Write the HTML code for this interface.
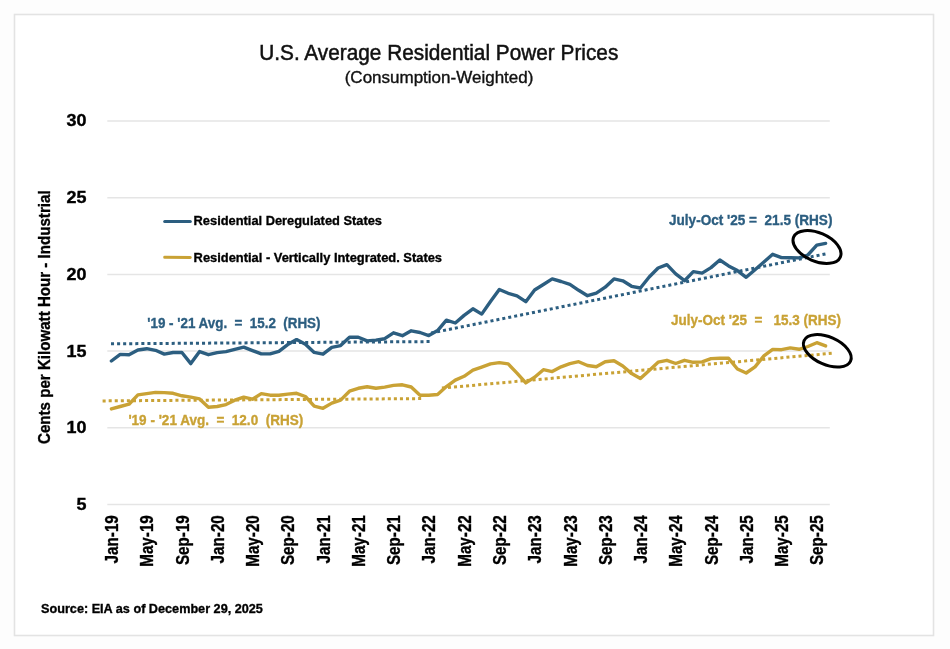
<!DOCTYPE html>
<html><head><meta charset="utf-8"><title>U.S. Average Residential Power Prices</title>
<style>html,body{margin:0;padding:0;background:#fdfdfd;}body{width:950px;height:649px;overflow:hidden;}svg{display:block;will-change:transform;}</style>
</head><body>
<svg width="950" height="649" viewBox="0 0 950 649" font-family="'Liberation Sans', Arial, sans-serif">
<rect x="0" y="0" width="950" height="649" fill="#fdfdfd"/>
<rect x="14.5" y="14.5" width="919" height="621" fill="#ffffff" stroke="#e3e3e3" stroke-width="1.6"/>
<text x="259.3" y="60.1" font-size="21.5" fill="#111" stroke="#111" stroke-width="0.5" textLength="359"  lengthAdjust="spacingAndGlyphs">U.S. Average Residential Power Prices</text>
<text x="344.7" y="82.6" font-size="15.8" fill="#111" stroke="#111" stroke-width="0.35" textLength="188.7" lengthAdjust="spacingAndGlyphs">(Consumption-Weighted)</text>
<line x1="107.3" y1="121.0" x2="829.8" y2="121.0" stroke="#E5E5E5" stroke-width="1.5"/>
<text transform="translate(86.4,126.4) scale(1.15,1)" x="0" y="0" font-size="15.6" font-weight="bold" fill="#000" stroke="#000" stroke-width="0.35" text-anchor="end">30</text>
<line x1="107.3" y1="197.7" x2="829.8" y2="197.7" stroke="#E5E5E5" stroke-width="1.5"/>
<text transform="translate(86.4,203.1) scale(1.15,1)" x="0" y="0" font-size="15.6" font-weight="bold" fill="#000" stroke="#000" stroke-width="0.35" text-anchor="end">25</text>
<line x1="107.3" y1="274.4" x2="829.8" y2="274.4" stroke="#E5E5E5" stroke-width="1.5"/>
<text transform="translate(86.4,279.8) scale(1.15,1)" x="0" y="0" font-size="15.6" font-weight="bold" fill="#000" stroke="#000" stroke-width="0.35" text-anchor="end">20</text>
<line x1="107.3" y1="351.1" x2="829.8" y2="351.1" stroke="#E5E5E5" stroke-width="1.5"/>
<text transform="translate(86.4,356.5) scale(1.15,1)" x="0" y="0" font-size="15.6" font-weight="bold" fill="#000" stroke="#000" stroke-width="0.35" text-anchor="end">15</text>
<line x1="107.3" y1="427.8" x2="829.8" y2="427.8" stroke="#E5E5E5" stroke-width="1.5"/>
<text transform="translate(86.4,433.2) scale(1.15,1)" x="0" y="0" font-size="15.6" font-weight="bold" fill="#000" stroke="#000" stroke-width="0.35" text-anchor="end">10</text>
<line x1="107.3" y1="504.5" x2="829.8" y2="504.5" stroke="#E5E5E5" stroke-width="1.5"/>
<text transform="translate(86.4,509.9) scale(1.15,1)" x="0" y="0" font-size="15.6" font-weight="bold" fill="#000" stroke="#000" stroke-width="0.35" text-anchor="end">5</text>
<text transform="translate(50,444) rotate(-90)" x="0" y="0" font-size="17.3" font-weight="bold" fill="#000" stroke="#000" stroke-width="0.35" textLength="253.6" lengthAdjust="spacingAndGlyphs">Cents per Kilowatt Hour - Industrial</text>
<text transform="translate(118.0,515.2) rotate(-90) scale(0.845,1)" x="0" y="0" font-size="18" font-weight="bold" fill="#000" stroke="#000" stroke-width="0.35" text-anchor="end">Jan-19</text>
<text transform="translate(153.3,515.2) rotate(-90) scale(0.845,1)" x="0" y="0" font-size="18" font-weight="bold" fill="#000" stroke="#000" stroke-width="0.35" text-anchor="end">May-19</text>
<text transform="translate(188.5,515.2) rotate(-90) scale(0.845,1)" x="0" y="0" font-size="18" font-weight="bold" fill="#000" stroke="#000" stroke-width="0.35" text-anchor="end">Sep-19</text>
<text transform="translate(223.8,515.2) rotate(-90) scale(0.845,1)" x="0" y="0" font-size="18" font-weight="bold" fill="#000" stroke="#000" stroke-width="0.35" text-anchor="end">Jan-20</text>
<text transform="translate(259.1,515.2) rotate(-90) scale(0.845,1)" x="0" y="0" font-size="18" font-weight="bold" fill="#000" stroke="#000" stroke-width="0.35" text-anchor="end">May-20</text>
<text transform="translate(294.3,515.2) rotate(-90) scale(0.845,1)" x="0" y="0" font-size="18" font-weight="bold" fill="#000" stroke="#000" stroke-width="0.35" text-anchor="end">Sep-20</text>
<text transform="translate(329.6,515.2) rotate(-90) scale(0.845,1)" x="0" y="0" font-size="18" font-weight="bold" fill="#000" stroke="#000" stroke-width="0.35" text-anchor="end">Jan-21</text>
<text transform="translate(364.9,515.2) rotate(-90) scale(0.845,1)" x="0" y="0" font-size="18" font-weight="bold" fill="#000" stroke="#000" stroke-width="0.35" text-anchor="end">May-21</text>
<text transform="translate(400.1,515.2) rotate(-90) scale(0.845,1)" x="0" y="0" font-size="18" font-weight="bold" fill="#000" stroke="#000" stroke-width="0.35" text-anchor="end">Sep-21</text>
<text transform="translate(435.4,515.2) rotate(-90) scale(0.845,1)" x="0" y="0" font-size="18" font-weight="bold" fill="#000" stroke="#000" stroke-width="0.35" text-anchor="end">Jan-22</text>
<text transform="translate(470.7,515.2) rotate(-90) scale(0.845,1)" x="0" y="0" font-size="18" font-weight="bold" fill="#000" stroke="#000" stroke-width="0.35" text-anchor="end">May-22</text>
<text transform="translate(505.9,515.2) rotate(-90) scale(0.845,1)" x="0" y="0" font-size="18" font-weight="bold" fill="#000" stroke="#000" stroke-width="0.35" text-anchor="end">Sep-22</text>
<text transform="translate(541.2,515.2) rotate(-90) scale(0.845,1)" x="0" y="0" font-size="18" font-weight="bold" fill="#000" stroke="#000" stroke-width="0.35" text-anchor="end">Jan-23</text>
<text transform="translate(576.5,515.2) rotate(-90) scale(0.845,1)" x="0" y="0" font-size="18" font-weight="bold" fill="#000" stroke="#000" stroke-width="0.35" text-anchor="end">May-23</text>
<text transform="translate(611.8,515.2) rotate(-90) scale(0.845,1)" x="0" y="0" font-size="18" font-weight="bold" fill="#000" stroke="#000" stroke-width="0.35" text-anchor="end">Sep-23</text>
<text transform="translate(647.0,515.2) rotate(-90) scale(0.845,1)" x="0" y="0" font-size="18" font-weight="bold" fill="#000" stroke="#000" stroke-width="0.35" text-anchor="end">Jan-24</text>
<text transform="translate(682.3,515.2) rotate(-90) scale(0.845,1)" x="0" y="0" font-size="18" font-weight="bold" fill="#000" stroke="#000" stroke-width="0.35" text-anchor="end">May-24</text>
<text transform="translate(717.6,515.2) rotate(-90) scale(0.845,1)" x="0" y="0" font-size="18" font-weight="bold" fill="#000" stroke="#000" stroke-width="0.35" text-anchor="end">Sep-24</text>
<text transform="translate(752.8,515.2) rotate(-90) scale(0.845,1)" x="0" y="0" font-size="18" font-weight="bold" fill="#000" stroke="#000" stroke-width="0.35" text-anchor="end">Jan-25</text>
<text transform="translate(788.1,515.2) rotate(-90) scale(0.845,1)" x="0" y="0" font-size="18" font-weight="bold" fill="#000" stroke="#000" stroke-width="0.35" text-anchor="end">May-25</text>
<text transform="translate(823.4,515.2) rotate(-90) scale(0.845,1)" x="0" y="0" font-size="18" font-weight="bold" fill="#000" stroke="#000" stroke-width="0.35" text-anchor="end">Sep-25</text>
<line x1="164.7" y1="221.6" x2="190.3" y2="221.6" stroke="#2C5E80" stroke-width="3" stroke-linecap="round"/>
<text x="193.6" y="225.0" font-size="13.5" font-weight="bold" fill="#000" stroke="#000" stroke-width="0.35" textLength="188.4" lengthAdjust="spacingAndGlyphs">Residential Deregulated States</text>
<line x1="164.7" y1="257.3" x2="190.3" y2="257.5" stroke="#C9A235" stroke-width="3" stroke-linecap="round"/>
<text x="193.6" y="262.0" font-size="13.5" font-weight="bold" fill="#000" stroke="#000" stroke-width="0.35" textLength="248.4" lengthAdjust="spacingAndGlyphs">Residential - Vertically Integrated. States</text>
<line x1="111.0" y1="343.8" x2="429.6" y2="341.6" stroke="#2C5E80" stroke-width="3" stroke-dasharray="3.05 3.018"/>
<line x1="102.6" y1="400.9" x2="421.4" y2="398.6" stroke="#C9A235" stroke-width="3" stroke-dasharray="3.05 3.018"/>
<line x1="431.17" y1="333.0" x2="825.5" y2="253.9" stroke="#2C5E80" stroke-width="3" stroke-dasharray="3.03 3.017"/>
<line x1="441.9" y1="388.1" x2="831.7" y2="353.3" stroke="#C9A235" stroke-width="3" stroke-dasharray="3.04 3.028"/>
<polyline points="111.4,361.0 120.2,354.4 129.0,354.7 137.9,350.0 146.7,348.7 155.5,350.3 164.3,354.1 173.1,352.5 181.9,352.5 190.8,363.6 199.6,351.6 208.4,354.7 217.2,352.6 226.0,351.6 234.8,349.3 243.7,347.2 252.5,350.6 261.3,353.9 270.1,353.9 278.9,351.3 287.7,344.6 296.6,339.6 305.4,344.3 314.2,352.4 323.0,354.2 331.8,347.3 340.6,345.6 349.5,337.2 358.3,337.2 367.1,340.9 375.9,340.1 384.7,338.7 393.5,332.8 402.4,335.7 411.2,330.8 420.0,332.5 428.8,335.6 437.6,330.6 446.4,320.1 455.3,323.0 464.1,315.4 472.9,308.8 481.7,314.1 490.5,301.5 499.3,289.5 508.2,293.3 517.0,295.8 525.8,301.7 534.6,290.0 543.4,284.5 552.2,278.9 561.1,281.5 569.9,284.3 578.7,290.3 587.5,295.7 596.3,293.1 605.2,287.2 614.0,278.9 622.8,280.8 631.6,286.3 640.4,288.0 649.2,277.0 658.1,268.0 666.9,264.6 675.7,273.9 684.5,280.7 693.3,271.6 702.1,273.1 711.0,267.6 719.8,260.0 728.6,265.9 737.4,270.6 746.2,277.3 755.0,269.7 763.9,262.0 772.7,254.3 781.5,257.6 790.3,257.8 799.1,257.9 807.9,255.0 816.8,245.1 825.6,243.4" fill="none" stroke="#2C5E80" stroke-width="3.4" stroke-linejoin="round" stroke-linecap="round"/>
<polyline points="111.4,408.9 120.2,406.5 129.0,404.2 137.9,394.9 146.7,393.6 155.5,392.4 164.3,392.6 173.1,393.3 181.9,395.8 190.8,397.1 199.6,398.9 208.4,407.2 217.2,406.5 226.0,404.6 234.8,400.2 243.7,397.1 252.5,399.2 261.3,393.6 270.1,395.2 278.9,395.2 287.7,394.1 296.6,393.3 305.4,396.5 314.2,406.2 323.0,408.3 331.8,403.1 340.6,400.1 349.5,391.2 358.3,388.3 367.1,386.8 375.9,388.3 384.7,387.1 393.5,385.4 402.4,384.8 411.2,387.0 420.0,395.3 428.8,395.2 437.6,394.5 446.4,386.6 455.3,380.1 464.1,376.3 472.9,370.2 481.7,367.1 490.5,363.9 499.3,362.6 508.2,363.9 517.0,373.1 525.8,382.9 534.6,377.3 543.4,369.7 552.2,371.6 561.1,366.8 569.9,363.7 578.7,361.7 587.5,365.5 596.3,366.8 605.2,361.7 614.0,360.8 622.8,366.0 631.6,373.6 640.4,378.6 649.2,370.4 658.1,362.2 666.9,360.3 675.7,363.5 684.5,360.3 693.3,362.3 702.1,361.9 711.0,358.6 719.8,358.3 728.6,358.3 737.4,369.0 746.2,373.0 755.0,366.8 763.9,355.9 772.7,349.4 781.5,349.7 790.3,347.9 799.1,349.3 807.9,346.5 816.8,342.7 825.6,345.9" fill="none" stroke="#C9A235" stroke-width="3.4" stroke-linejoin="round" stroke-linecap="round"/>
<text x="147.3" y="327.9" font-size="14.5" font-weight="bold" fill="#2C5E80" stroke="#2C5E80" stroke-width="0.35" textLength="173.2" lengthAdjust="spacingAndGlyphs" xml:space="preserve" style="white-space:pre">'19 - '21 Avg.  =  15.2  (RHS)</text>
<text x="128.4" y="424.8" font-size="14.5" font-weight="bold" fill="#C9A235" stroke="#C9A235" stroke-width="0.35" textLength="174.8" lengthAdjust="spacingAndGlyphs" xml:space="preserve" style="white-space:pre">'19 - '21 Avg.  =  12.0  (RHS)</text>
<text x="669" y="225" font-size="14.5" font-weight="bold" fill="#2C5E80" stroke="#2C5E80" stroke-width="0.35" textLength="163.4" lengthAdjust="spacingAndGlyphs" xml:space="preserve" style="white-space:pre">July-Oct '25 =  21.5 (RHS)</text>
<text x="671" y="325" font-size="14.5" font-weight="bold" fill="#C9A235" stroke="#C9A235" stroke-width="0.35" textLength="170" lengthAdjust="spacingAndGlyphs" xml:space="preserve" style="white-space:pre">July-Oct '25  =   15.3 (RHS)</text>
<ellipse cx="817" cy="247" rx="25.4" ry="14.2" transform="rotate(23.4 817 247)" fill="none" stroke="#000" stroke-width="3"/>
<ellipse cx="827.3" cy="350.85" rx="25.4" ry="13.8" transform="rotate(23.8 827.3 350.85)" fill="none" stroke="#000" stroke-width="3"/>
<text x="41" y="612.9" font-size="13" font-weight="bold" fill="#000" stroke="#000" stroke-width="0.35" textLength="221.9" lengthAdjust="spacingAndGlyphs">Source: EIA as of December 29, 2025</text>
</svg>
</body></html>
